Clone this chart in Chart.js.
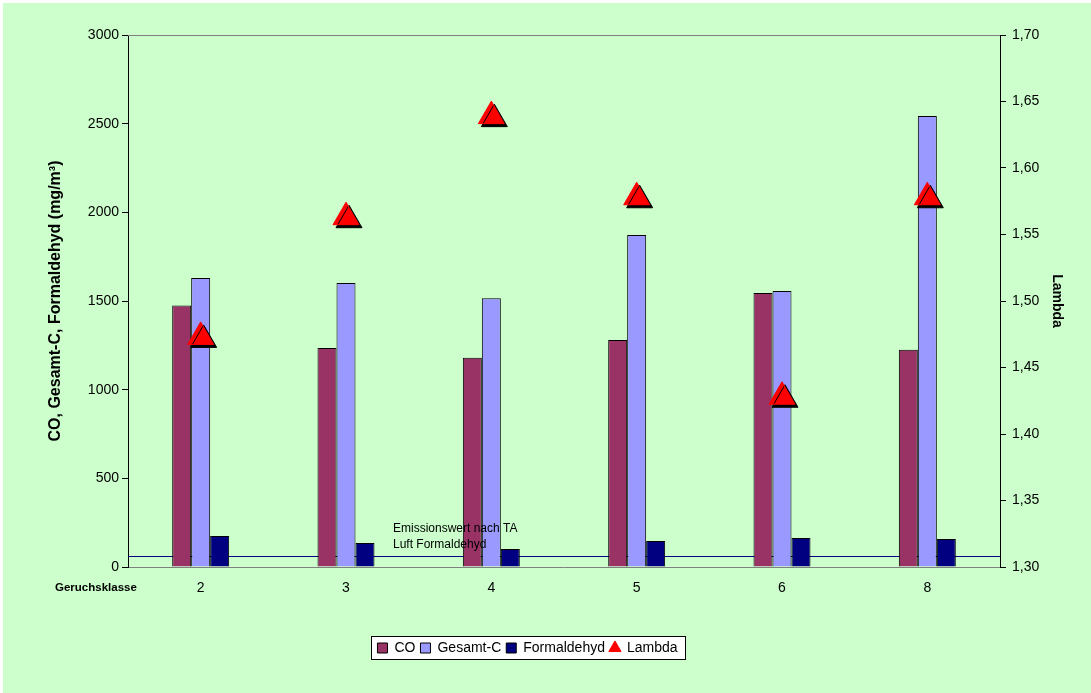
<!DOCTYPE html>
<html>
<head>
<meta charset="utf-8">
<script src="https://cdn.jsdelivr.net/npm/chart.js@4/dist/chart.umd.min.js"></script>
<style>
  html, body { margin: 0; padding: 0; background: #fff; }
  #wrap { width: 1091px; height: 693px; }
</style>
</head>
<body>
<div id="wrap"><canvas id="c" width="1091" height="693"></canvas></div>
<script>
// Geruchsklassen (odour classes) on the x axis
const categories = ['2', '3', '4', '5', '6', '8'];

// Emissions in mg/m³ (left axis)
const coValues = [1475, 1235, 1180, 1280, 1545, 1225];
const gesamtCValues = [1630, 1602, 1515, 1872, 1557, 2543];
const formaldehydValues = [175, 135, 101, 147, 164, 158];

// Air ratio (right axis)
const lambdaValues = [1.473, 1.563, 1.639, 1.578, 1.428, 1.578];

// TA Luft emission limit for formaldehyde, mg/m³
const formaldehydLimit = 60;
const limitLabel = ['Emissionswert nach TA', 'Luft Formaldehyd'];
const xCaption = 'Geruchsklasse';

const leftTicks = [0, 500, 1000, 1500, 2000, 2500, 3000];
const rightTicks = [1.30, 1.35, 1.40, 1.45, 1.50, 1.55, 1.60, 1.65, 1.70];

const FONT = "'Liberation Sans', Arial, sans-serif";
Chart.defaults.font.family = FONT;
Chart.defaults.color = '#000';

const decoPlugin = {
  id: 'deco',
  afterLayout(chart) {
    // place the legend row a little left of centre
    const lg = chart.legend;
    if (!lg) return;
    const pad = lg.options.labels.padding;
    const delta = 530 - (lg.left + lg.right + pad) / 2;
    lg.left += delta;
    lg.right += delta;
  },
  beforeDraw(chart) {
    const ctx = chart.ctx;
    ctx.save();
    ctx.fillStyle = '#ffffff';
    ctx.fillRect(0, 0, chart.width, chart.height);
    ctx.fillStyle = '#CCFFCC';
    ctx.fillRect(3, 3, chart.width - 3, chart.height - 3);
    // legend frame
    const boxes = chart.legend && chart.legend.legendHitBoxes;
    if (boxes && boxes.length) {
      const first = boxes[0], last = boxes[boxes.length - 1];
      const x0 = Math.round(first.left) - 5.5;
      const x1 = Math.round(last.left + last.width) + 7.5;
      const y0 = Math.round(first.top) - 4.5;
      const y1 = Math.round(first.top + first.height) + 4.5;
      ctx.fillStyle = '#ffffff';
      ctx.fillRect(x0, y0, x1 - x0, y1 - y0);
      ctx.strokeStyle = '#000';
      ctx.lineWidth = 1;
      ctx.strokeRect(x0, y0, x1 - x0, y1 - y0);
    }
    ctx.restore();
  },
  beforeDatasetsDraw(chart) {
    const {ctx, chartArea: a, scales} = chart;
    ctx.save();
    // top edge of the plot area
    ctx.strokeStyle = '#808080';
    ctx.lineWidth = 1;
    ctx.beginPath();
    ctx.moveTo(a.left, Math.round(a.top) + 0.5);
    ctx.lineTo(a.right, Math.round(a.top) + 0.5);
    ctx.stroke();
    // formaldehyde limit line
    const y = Math.round(scales.y.getPixelForValue(formaldehydLimit)) + 0.5;
    ctx.strokeStyle = '#000080';
    ctx.beginPath();
    ctx.moveTo(a.left, y);
    ctx.lineTo(a.right, y);
    ctx.stroke();
    ctx.restore();
  },
  afterDatasetsDraw(chart) {
    const {ctx, chartArea: a, scales} = chart;
    ctx.save();
    const y = scales.y.getPixelForValue(formaldehydLimit);
    ctx.font = '12px ' + FONT;
    ctx.fillStyle = '#000';
    ctx.textBaseline = 'middle';
    ctx.textAlign = 'left';
    ctx.fillText(limitLabel[0], a.left + 265, y - 28);
    ctx.fillText(limitLabel[1], a.left + 265, y - 12);
    // caption on the category row
    ctx.font = 'bold 11.5px ' + FONT;
    ctx.fillText(xCaption, 55, a.bottom + 21);
    ctx.restore();
  },
  beforeDatasetDraw(chart, args) {
    if (args.index === 3) {
      const ctx = chart.ctx;
      ctx.save();
      ctx.shadowColor = '#000';
      ctx.shadowOffsetX = 3;
      ctx.shadowOffsetY = 3;
      ctx.shadowBlur = 0;
    }
  },
  afterDatasetDraw(chart, args) {
    if (args.index === 3) chart.ctx.restore();
  }
};

new Chart(document.getElementById('c'), {
  type: 'bar',
  data: {
    labels: categories,
    datasets: [
      { label: 'CO', data: coValues, backgroundColor: '#993366', borderColor: '#000', borderWidth: 1, yAxisID: 'y', order: 1 },
      { label: 'Gesamt-C', data: gesamtCValues, backgroundColor: '#9999FF', borderColor: '#000', borderWidth: 1, yAxisID: 'y', order: 1 },
      { label: 'Formaldehyd', data: formaldehydValues, backgroundColor: '#000080', borderColor: '#000', borderWidth: 1, yAxisID: 'y', order: 1 },
      { type: 'line', label: 'Lambda', data: lambdaValues, yAxisID: 'y1', showLine: false,
        pointStyle: 'triangle', pointRadius: 15, pointHoverRadius: 15,
        pointBackgroundColor: '#FF0000', pointBorderColor: '#FF0000', pointBorderWidth: 1,
        backgroundColor: '#FF0000', borderColor: '#FF0000', order: 0 }
    ]
  },
  options: {
    responsive: false,
    animation: false,
    events: [],
    layout: { padding: { left: 42, right: 22, top: 35, bottom: 28 } },
    datasets: { bar: { categoryPercentage: 0.392, barPercentage: 1.0 } },
    scales: {
      x: {
        offset: true,
        grid: { display: false, drawTicks: false },
        border: { display: true, color: '#808080', width: 1 },
        ticks: { padding: 13, font: { size: 14 }, color: '#000' },
        afterFit(s) { s.height = 69; }
      },
      y: {
        position: 'left',
        min: 0, max: 3000,
        afterBuildTicks(s) { s.ticks = leftTicks.map(v => ({ value: v })); },
        ticks: { font: { size: 14 }, padding: 3, color: '#000', callback: v => String(v) },
        grid: { drawOnChartArea: false, drawTicks: true, tickLength: 6, color: '#000' },
        border: { display: true, color: '#000', width: 1 },
        title: { display: true, text: 'CO, Gesamt-C, Formaldehyd (mg/m³)', font: { size: 16, weight: 'bold' }, color: '#000', padding: { top: 4, bottom: 4 } },
        afterFit(s) { s.width = 86; }
      },
      y1: {
        position: 'right',
        min: 1.3, max: 1.7,
        afterBuildTicks(s) { s.ticks = rightTicks.map(v => ({ value: v })); },
        ticks: { font: { size: 14 }, padding: 6, color: '#000',
          callback: v => v.toFixed(2).replace('.', ',') },
        grid: { drawOnChartArea: false, drawTicks: true, tickLength: 6, color: '#000' },
        border: { display: true, color: '#000', width: 1 },
        title: { display: true, text: 'Lambda', font: { size: 14, weight: 'bold' }, color: '#000', padding: { top: 4, bottom: 4 } },
        afterFit(s) { s.width = 69; }
      }
    },
    plugins: {
      tooltip: { enabled: false },
      legend: {
        position: 'bottom',
        labels: {
          usePointStyle: true,
          boxWidth: 10, boxHeight: 10,
          padding: 5,
          font: { size: 14 },
          color: '#000',
          sort: (a, b) => a.datasetIndex - b.datasetIndex,
          generateLabels(chart) {
            return chart.data.datasets.map((ds, i) => ({
              text: ds.label,
              datasetIndex: i,
              fillStyle: ds.type === 'line' ? ds.pointBackgroundColor : ds.backgroundColor,
              strokeStyle: ds.type === 'line' ? ds.pointBorderColor : '#000',
              lineWidth: 1,
              pointStyle: ds.type === 'line' ? 'triangle' : 'rect',
              hidden: false,
              fontColor: '#000'
            }));
          }
        }
      }
    }
  },
  plugins: [decoPlugin]
});
</script>
</body>
</html>
